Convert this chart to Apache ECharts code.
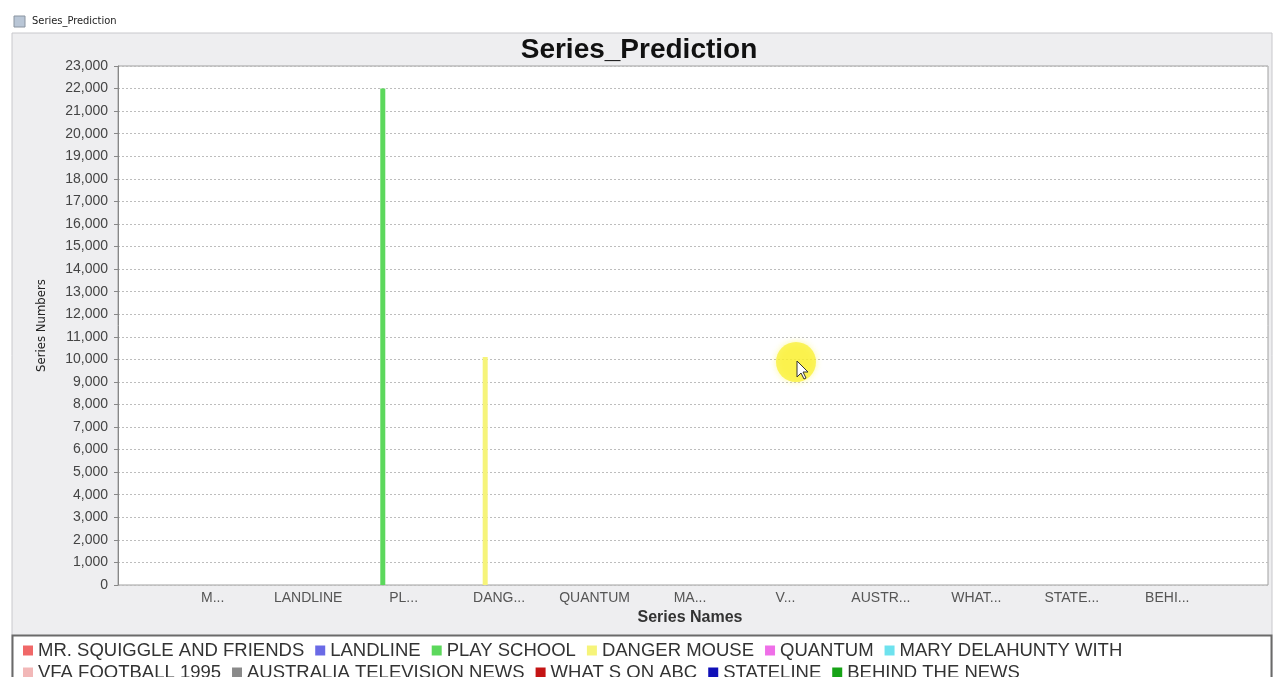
<!DOCTYPE html>
<html>
<head>
    <meta charset="UTF-8">
    <title>Series_Prediction</title>
    <script src="https://cdn.jsdelivr.net/npm/echarts@6/dist/echarts.min.js"></script>
    <style>
        * { padding: 0; margin: 0; }
        body { background: #fff; }
        #main { width: 1278px; height: 677px; }
    </style>
</head>
<body>
    <div id="main"></div>
<script>
    // series names (one series per category, JFreeChart style)
    var categories = ['MR. SQUIGGLE AND FRIENDS', 'LANDLINE', 'PLAY SCHOOL', 'DANGER MOUSE', 'QUANTUM',
        'MARY DELAHUNTY WITH', 'VFA FOOTBALL 1995', 'AUSTRALIA TELEVISION NEWS', 'WHAT S ON ABC', 'STATELINE', 'BEHIND THE NEWS'];
    var tickLabels = ['M...', 'LANDLINE', 'PL...', 'DANG...', 'QUANTUM', 'MA...', 'V...', 'AUSTR...', 'WHAT...', 'STATE...', 'BEHI...'];
    var values = [0, 0, 22000, 10100, 0, 0, 0, 0, 0, 0, 0];
    var colors = ['#f06868', '#6a6ae6', '#5cd85c', '#f6f47a', '#ef6fe8', '#6ee2ee', '#f2b8b8', '#8a8a8a', '#c41414', '#1010b8', '#17a317'];
    var legendRow1 = categories.slice(0, 6);
    var legendRow2 = categories.slice(6);

    var myChart = echarts.init(document.getElementById('main'));

    function $each(arr, fn) {   // tiny helper
        for (var i = 0; i < arr.length; i++) fn(i, arr[i]);
    }

    var series = [];
    $each(categories, function (i, name) {
        series.push({
            name: name,
            type: 'bar',
            xAxisIndex: 1,
            yAxisIndex: 1,
            barWidth: 5,
            barGap: '39%',
            itemStyle: { color: colors[i] },
            data: categories.map(function (c, j) { return j === i ? values[i] : null; })
        });
    });

    var legendText = { fontFamily: 'Liberation Sans', fontSize: 18.5, color: '#333', lineHeight: 18 };

    var option = {
        animation: false,
        backgroundColor: '#ffffff',
        color: colors,
        graphic: [
            // window chrome
            { type: 'rect', shape: { x: 12, y: 33, width: 1260, height: 660 }, style: { fill: '#eeeef0', stroke: '#c8c8cc', lineWidth: 1 }, z: -10 },
            { type: 'rect', shape: { x: 14, y: 16, width: 11, height: 11 }, style: { fill: '#b9c6d6', stroke: '#8a94a0' }, z: -5 },
            { type: 'text', left: 32, top: 16, style: { text: 'Series_Prediction', font: '11px "DejaVu Sans Condensed", sans-serif', fill: '#222' } },
            // legend box
            { type: 'rect', shape: { x: 12.5, y: 635.5, width: 1259, height: 60 }, style: { fill: '#ffffff', stroke: '#6a6a6a', lineWidth: 2 }, z: -1 },
            // recorder cursor highlight
            { type: 'circle', shape: { cx: 796, cy: 362, r: 20 }, style: { fill: 'rgba(250,240,40,0.7)', shadowBlur: 6, shadowColor: 'rgba(250,240,40,0.6)' }, z: 50 },
            { type: 'polygon', shape: { points: [[797, 361], [797, 377], [801, 373], [804, 379], [806, 378], [803, 372], [808, 372]] }, style: { fill: '#fff', stroke: '#333', lineWidth: 1 }, z: 51 }
        ],
        title: {
            text: 'Series_Prediction',
            left: 'center',
            top: 31,
            textStyle: { fontFamily: 'Liberation Sans', fontSize: 28, fontWeight: 'bold', color: '#111' }
        },
        legend: [
            { data: legendRow1, left: 18, top: 636, itemWidth: 10, itemHeight: 10, itemGap: 11, icon: 'rect', textStyle: legendText, selectedMode: false },
            { data: legendRow2, left: 18, top: 658, itemWidth: 10, itemHeight: 10, itemGap: 11, icon: 'rect', textStyle: legendText, selectedMode: false }
        ],
        grid: [
            { left: 118, top: 66, width: 1150, height: 519, show: true, backgroundColor: '#ffffff', borderColor: '#a0a0a0', borderWidth: 1 },
            { left: 165, top: 66, width: 1050, height: 519 }
        ],
        xAxis: [
            { type: 'category', gridIndex: 0, data: categories, show: false },
            {
                type: 'category', gridIndex: 1, data: categories,
                name: 'Series Names', nameLocation: 'middle', nameGap: 25,
                nameTextStyle: { fontFamily: 'Liberation Sans', fontSize: 16, fontWeight: 'bold', color: '#333' },
                axisLine: { show: false },
                axisTick: { show: false },
                axisLabel: {
                    fontFamily: 'Liberation Sans', fontSize: 14, color: '#555', margin: 6,
                    formatter: function (v, i) { return tickLabels[i]; }
                }
            }
        ],
        yAxis: [
            {
                type: 'value', gridIndex: 0, min: 0, max: 23000, interval: 1000,
                name: 'Series Numbers', nameLocation: 'middle', nameGap: 70, nameRotate: 90,
                nameTextStyle: { fontFamily: '"DejaVu Sans Condensed", "Liberation Sans"', fontSize: 13, color: '#222' },
                axisLine: { show: true, lineStyle: { color: '#888' } },
                axisTick: { show: true, length: 4, lineStyle: { color: '#888' } },
                axisLabel: {
                    fontFamily: 'Liberation Sans', fontSize: 14, color: '#444', margin: 10,
                    formatter: function (v) { return v.toLocaleString('en-US'); }
                },
                splitLine: { show: true, lineStyle: { color: '#bdbdbd', type: [2, 2], width: 1 } }
            },
            { type: 'value', gridIndex: 1, min: 0, max: 23000, interval: 1000, show: false, splitLine: { show: false } }
        ],
        series: series
    };

    myChart.setOption(option);
</script>
</body>
</html>
